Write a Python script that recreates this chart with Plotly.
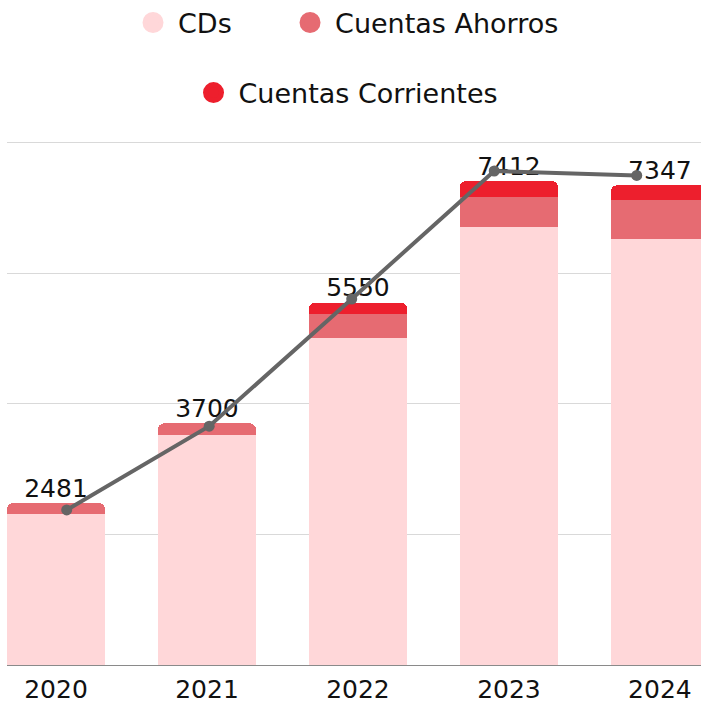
import plotly.graph_objects as go

years = ["2020", "2021", "2022", "2023", "2024"]
cds = [2311, 3528, 5015, 6705, 6522]
ahorros = [170, 172, 363, 463, 597]
corrientes = [0, 0, 172, 244, 228]
totals = [2481, 3700, 5550, 7412, 7347]
legend_names = ["CDs" + "\u00a0" * 5 + "\u2009", "Cuentas Ahorros", "Cuentas Corrientes"]

C_CDS = "#FFD7D9"
C_AHO = "#E66B72"
C_COR = "#ED1F2D"
C_LINE = "#656565"
FONT = "DejaVu Sans"
TXT = "#111111"

fig = go.Figure()
for name, vals, col in [("CDs", cds, C_CDS), ("Cuentas Ahorros", ahorros, C_AHO),
                        ("Cuentas Corrientes", corrientes, C_COR)]:
    fig.add_trace(go.Bar(x=years, y=vals, name=name, marker=dict(color=col, line=dict(width=0)),
                         showlegend=False, hoverinfo="skip"))

fig.add_trace(go.Scatter(x=years, y=totals, mode="text", text=[str(t) for t in totals],
                         textposition="top center", textfont=dict(size=25, color=TXT, family=FONT),
                         showlegend=False, hoverinfo="skip"))

fig.add_trace(go.Scatter(x=years, y=totals, mode="lines+markers", xaxis="x2", yaxis="y2",
                         line=dict(color=C_LINE, width=4), marker=dict(size=11, color=C_LINE),
                         showlegend=False))

# legend entries
for name, col, lg in [(legend_names[0], C_CDS, "legend"), (legend_names[1], C_AHO, "legend"),
                      (legend_names[2], C_COR, "legend2")]:
    fig.add_trace(go.Scatter(x=[None], y=[None], mode="markers", name=name,
                             marker=dict(size=16, color=col, line=dict(width=5, color=col)),
                             legend=lg))

fig.update_layout(
    width=701, height=703,
    margin=dict(l=7, r=0, t=140, b=38, autoexpand=False),
    paper_bgcolor="white", plot_bgcolor="white",
    barmode="stack", bargap=0.351, barcornerradius=6,
    font=dict(family=FONT, size=25, color=TXT),
    xaxis=dict(type="category", range=[-0.3245, 4.272], showgrid=False, showline=True,
               linecolor="#8a8a8a", linewidth=1, layer="below traces", ticks="",
               tickfont=dict(size=25, color=TXT, family=FONT), ticklabelstandoff=2),
    yaxis=dict(range=[0, 8040], tickvals=[0, 2000, 4000, 6000, 8000], showgrid=True,
               gridcolor="#d9d9d9", gridwidth=1, showticklabels=False, zeroline=False),
    xaxis2=dict(type="category", overlaying="x", range=[-0.419, 4.451], visible=False),
    yaxis2=dict(overlaying="y", range=[226, 7863], visible=False),
    legend=dict(orientation="h", xref="container", yref="container", x=0.4936, xanchor="center",
                y=0.9673, yanchor="middle",
                font=dict(size=27, family=FONT, color=TXT), itemsizing="trace",
                itemwidth=40, traceorder="normal", bgcolor="rgba(0,0,0,0)"),
    legend2=dict(orientation="h", xref="container", yref="container", x=0.4936, xanchor="center",
                 y=0.8677, yanchor="middle",
                 font=dict(size=27, family=FONT, color=TXT), itemsizing="trace",
                 itemwidth=40, traceorder="normal", bgcolor="rgba(0,0,0,0)"),
    hovermode=False,
)

fig.write_html("out.html", config={"displayModeBar": False},
               post_script="document.body.style.margin='0px';")
